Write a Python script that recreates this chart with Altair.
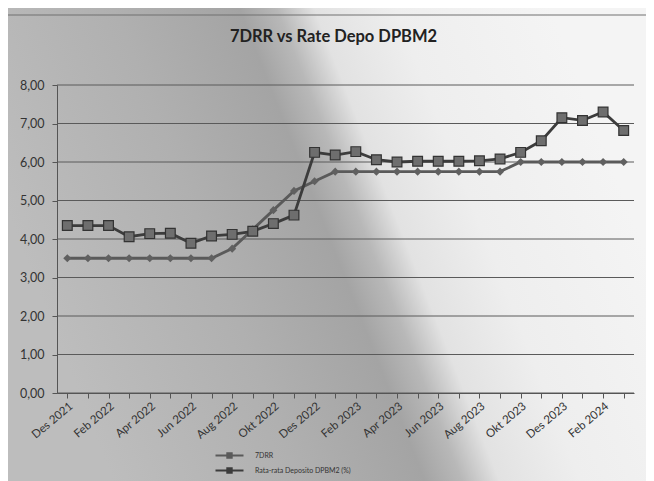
import altair as alt
import pandas as pd

months = ["Des 2021", "Jan 2022", "Feb 2022", "Mar 2022", "Apr 2022", "Mei 2022", "Jun 2022",
          "Jul 2022", "Aug 2022", "Sep 2022", "Okt 2022", "Nov 2022", "Des 2022",
          "Jan 2023", "Feb 2023", "Mar 2023", "Apr 2023", "Mei 2023", "Jun 2023",
          "Jul 2023", "Aug 2023", "Sep 2023", "Okt 2023", "Nov 2023", "Des 2023",
          "Jan 2024", "Feb 2024", "Mar 2024"]

drr = [3.50, 3.50, 3.50, 3.50, 3.50, 3.50, 3.50, 3.50, 3.75, 4.25, 4.75, 5.25, 5.50,
       5.75, 5.75, 5.75, 5.75, 5.75, 5.75, 5.75, 5.75, 5.75, 6.00, 6.00, 6.00,
       6.00, 6.00, 6.00]

depo = [4.35, 4.35, 4.35, 4.06, 4.14, 4.15, 3.89, 4.08, 4.12, 4.20, 4.40, 4.62, 6.25,
        6.18, 6.27, 6.06, 6.00, 6.02, 6.02, 6.02, 6.03, 6.08, 6.25, 6.55, 7.15,
        7.08, 7.30, 6.82]

series_names = ["7DRR", "Rata-rata Deposito DPBM2 (%)"]
y_ticks = [0, 1, 2, 3, 4, 5, 6, 7, 8]

rows = []
for m, v in zip(months, drr):
    rows.append({"month": m, "value": v, "series": series_names[0]})
for m, v in zip(months, depo):
    rows.append({"month": m, "value": v, "series": series_names[1]})
df = pd.DataFrame(rows)

W, H = 577, 308

x_enc = alt.X("month:O", sort=months,
              scale=alt.Scale(type="point", padding=0.5),
              axis=alt.Axis(title=None, labelAngle=-40, labelFontSize=11.5, labelFont="Lato",
                            labelColor="#333",
                            labelExpr="test(/^(Des|Feb|Apr|Jun|Aug|Okt)/, datum.value) ? datum.value : ''",
                            tickColor="#555", domainColor="#555", tickSize=5, labelPadding=2,
                            grid=False, zindex=1))
y_scale = alt.Scale(domain=[0, 8], nice=False)
y_axis = alt.Axis(title=None, values=y_ticks, grid=False, labelFontSize=12.5,
                  labelFont="Lato", labelColor="#333", labelPadding=8,
                  labelExpr="replace(format(datum.value, '.2f'), '.', ',')",
                  tickColor="#555", domainColor="#555", tickSize=5, zindex=1)
y_enc = alt.Y("value:Q", scale=y_scale, axis=y_axis)

bg = alt.Chart(pd.DataFrame({"k": [0]})).mark_rect(
    fill=alt.Gradient(gradient="linear", x1=0.05, y1=0.6, x2=0.94, y2=0.34,
                      stops=[alt.GradientStop(offset=0, color="#bdbdbd"),
                             alt.GradientStop(offset=0.3, color="#b0b0b0"),
                             alt.GradientStop(offset=0.5, color="#a4a4a4"),
                             alt.GradientStop(offset=0.56, color="#b8b8b8"),
                             alt.GradientStop(offset=0.62, color="#e2e2e2"),
                             alt.GradientStop(offset=0.75, color="#eeeeee"),
                             alt.GradientStop(offset=1, color="#f4f4f4")])
).encode(x=alt.value(-49), x2=alt.value(W + 20), y=alt.value(-77), y2=alt.value(H + 96))

frame = alt.Chart(pd.DataFrame({"k": [0]})).mark_rect(
    fill="transparent", stroke="#707070", strokeWidth=1.2
).encode(x=alt.value(-50), x2=alt.value(W + 30), y=alt.value(-70), y2=alt.value(H + 110))

grid = alt.Chart(pd.DataFrame({"t": y_ticks})).mark_rule(color="#5a5a5a", strokeWidth=1).encode(
    y=alt.Y("t:Q", scale=y_scale, axis=y_axis))

lines = alt.Chart(df).mark_line(strokeWidth=2.8).encode(
    x=x_enc, y=y_enc,
    color=alt.Color("series:N", sort=series_names,
                    scale=alt.Scale(domain=series_names, range=["#5a5a5a", "#3c3c3c"]),
                    legend=alt.Legend(title=None, orient="none", legendX=157, legendY=362,
                                      symbolType="M-2,0H2M-0.3,-0.3H0.3V0.3H-0.3Z",
                                      symbolSize=196, symbolStrokeWidth=2.2,
                                      symbolFillColor="#555555", symbolOffset=7,
                                      labelOffset=17, labelFontSize=7, labelFont="Lato",
                                      labelColor="#333", rowPadding=0)))

pts_drr = alt.Chart(df).transform_filter(alt.datum.series == series_names[0]).mark_point(
    shape="diamond", filled=True, size=65, color="#606060", opacity=1).encode(x=x_enc, y=y_enc)

pts_depo = alt.Chart(df).transform_filter(alt.datum.series == series_names[1]).mark_point(
    shape="square", filled=True, size=95, fill="#6e6e6e", stroke="#333333", strokeWidth=1.2,
    opacity=1).encode(x=x_enc, y=y_enc)

chart = alt.layer(bg, frame, grid, lines, pts_drr, pts_depo).properties(
    width=W, height=H,
    title=alt.TitleParams("7DRR vs Rate Depo DPBM2", fontSize=16.5, font="Lato", fontWeight="bold",
                          color="#222", anchor="middle", dx=-12, dy=50, offset=0,
                          baseline="alphabetic"),
    autosize=alt.AutoSizeParams(type="none"),
    padding={"left": 49, "top": 77, "right": 12, "bottom": 88},
    background="#c8c8c8",
).configure_view(stroke=None)

chart.save("out.html", embed_options={"renderer": "svg", "actions": False})
